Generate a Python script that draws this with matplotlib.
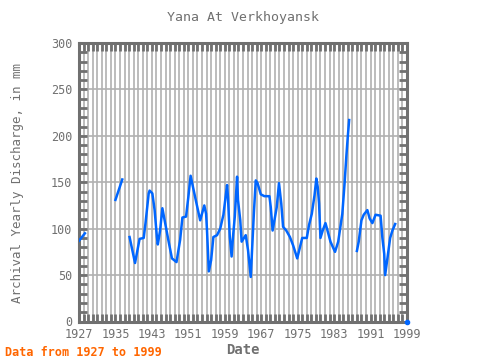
import numpy as np
import matplotlib
matplotlib.use("Agg")
import matplotlib.pyplot as plt
from matplotlib.ticker import MultipleLocator

title = "Yana At Verkhoyansk"
ylabel = "Archival Yearly Discharge, in mm"
xlabel = "Date"
note = "Data from 1927 to 1999"
xticks = [1927, 1935, 1943, 1951, 1959, 1967, 1975, 1983, 1991, 1999]
yticks = [0, 50, 100, 150, 200, 250, 300]

years = [1927.0, 1928.3, np.nan,
         1935.0, 1936.5, np.nan,
         1938.1, 1939.3, 1940.3, 1941.2, 1941.6, 1942.3, 1942.5, 1943.1, 1943.6, 1944.1,
         1944.3, 1944.8, 1945.3, 1945.8, 1946.6, 1947.4, 1948.4, 1949.2, 1949.7, 1950.5,
         1951.0, 1951.5, 1952.1, 1952.8, 1953.6, 1954.5, 1954.9, 1955.1, 1955.5, 1956.0,
         1956.5, 1957.3, 1958.0, 1958.7, 1959.5, 1959.7, 1960.1, 1960.5, 1960.8, 1961.2,
         1961.7, 1961.9, 1962.4, 1962.7, 1963.6, 1964.1, 1964.7, 1965.1, 1965.4, 1965.8,
         1966.2, 1966.9, 1967.7, 1968.8, 1969.1, 1969.5, 1969.9, 1970.4, 1970.9, 1971.4,
         1971.8, 1972.5, 1973.3, 1974.0, 1974.9, 1976.0, 1977.0, 1977.5, 1978.1, 1978.7,
         1979.1, 1979.4, 1979.7, 1980.0, 1980.5, 1981.1, 1981.6, 1982.2, 1983.2, 1983.9,
         1984.8, 1985.3, 1985.7, 1986.0, 1986.3, np.nan,
         1988.0, 1988.4, 1989.0, 1989.5, 1990.3, 1990.8, 1991.4, 1992.1, 1993.2, 1993.6,
         1994.0, 1994.2, 1994.7, 1995.3, 1995.8, 1996.4, np.nan,
         1999.0]
values = [87, 95, np.nan,
          131, 153, np.nan,
          91, 63, 89, 90, 106, 138, 141, 138, 120, 91,
          83, 98, 122, 109, 88, 68, 64, 88, 112, 113,
          134, 157, 143, 127, 109, 125, 116, 98, 54, 66,
          91, 93, 100, 115, 147, 134, 91, 70, 91, 113,
          156, 131, 109, 86, 93, 77, 48, 88, 118, 152,
          149, 137, 135, 135, 123, 98, 109, 123, 149, 127,
          102, 98, 91, 82, 68, 90, 90, 104, 116, 136,
          154, 145, 127, 90, 98, 106, 97, 86, 75, 86,
          116, 149, 179, 199, 217, np.nan,
          76, 86, 109, 115, 120, 111, 106, 115, 114, 90,
          73, 50, 68, 90, 98, 105, np.nan,
          0]

gray = "#707070"
blue = "#0066ff"
fam = ["DejaVu Sans Mono"]

fig = plt.figure(figsize=(4.8, 3.6), dpi=100)
ax = fig.add_axes([79/480, 1-321.5/360, (407-79)/480, (321.5-43)/360])

ax.plot(years, values, color=blue, lw=1.8, zorder=3)
yrs = np.array(years); vals = np.array(values)
ax.plot(yrs[-1:], vals[-1:], 'o', color=blue, ms=3, zorder=4, clip_on=False)

ax.set_xlim(1927, 1999)
ax.set_ylim(0, 300)
ax.set_xticks(xticks)
ax.set_yticks(yticks)
ax.xaxis.set_minor_locator(MultipleLocator(1))
ax.yaxis.set_minor_locator(MultipleLocator(10))
ax.grid(which='minor', axis='x', color="#b0b0b0", lw=1.2, zorder=1)
ax.grid(which='major', axis='x', color="#b0b0b0", lw=1.2, zorder=1)
ax.grid(which='major', axis='y', color="#b0b0b0", lw=1.2, zorder=1)

for s in ax.spines.values():
    s.set_color(gray)
    s.set_linewidth(2.2)

ax.tick_params(which='both', direction='in', color=gray, top=True, right=True,
               length=6, width=2)
for lab in ax.get_xticklabels() + ax.get_yticklabels():
    lab.set_family(fam)
    lab.set_fontsize(8.5)
    lab.set_color(gray)
ax.tick_params(axis='both', pad=5)

fig.text(0.5 * (79 + 407) / 480, 1 - 18/360, title, family=fam, fontsize=9.5,
         color=gray, ha='center', va='center')
fig.text(18/480, 1 - 183/360, ylabel, family=fam, fontsize=9, color=gray,
         rotation=90, ha='center', va='center')
ax.set_xlabel(xlabel, family=fam, fontsize=10, color=gray, fontweight='bold', labelpad=1)
fig.text(5/480, 1-352/360, note, family=fam, fontsize=8.5, color="#ff6600",
         fontweight='bold', va='center', ha='left')

fig.savefig("out.png", dpi=100, facecolor="white")
